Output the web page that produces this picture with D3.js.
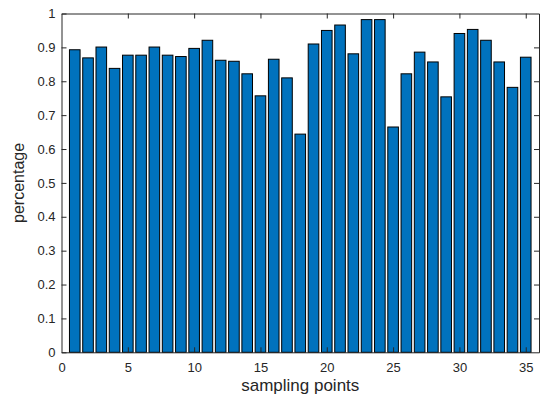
<!DOCTYPE html>
<html>
<head>
<meta charset="utf-8">
<script src="https://cdn.jsdelivr.net/npm/d3@7"></script>
<style>
  html, body { margin: 0; padding: 0; background: #fff; }
  svg { display: block; }
  text { font-family: "Liberation Sans", Arial, Helvetica, sans-serif; fill: #262626; }
</style>
</head>
<body>
<svg id="chart" width="540" height="396"></svg>
<script>
const categories = d3.range(1, 36);
const values = [0.893, 0.869, 0.901, 0.838, 0.877, 0.877, 0.901, 0.877, 0.873, 0.897,
                0.921, 0.862, 0.859, 0.822, 0.757, 0.865, 0.810, 0.644, 0.910, 0.950,
                0.966, 0.881, 0.982, 0.982, 0.665, 0.822, 0.886, 0.857, 0.754, 0.941,
                0.953, 0.921, 0.857, 0.782, 0.871];
const xTicks = [0, 5, 10, 15, 20, 25, 30, 35];
const yTicks = [0, 0.1, 0.2, 0.3, 0.4, 0.5, 0.6, 0.7, 0.8, 0.9, 1];
const xLabel = "sampling points";
const yLabel = "percentage";

const svg = d3.select("#chart");
const L = 61.5, R = 539, T = 13.5, B = 352.3;
const x = d3.scaleLinear().domain([0, 36]).range([L, R]);
const y = d3.scaleLinear().domain([0, 1]).range([B, T]);
const axisColor = "#262626";
const tickLen = 5;

// bars
const bw = x(0.8) - x(0);
svg.append("g").selectAll("rect")
  .data(categories)
  .join("rect")
  .attr("x", (d) => x(d) - bw / 2)
  .attr("y", (d, i) => y(values[i]))
  .attr("width", bw)
  .attr("height", (d, i) => y(0) - y(values[i]))
  .attr("fill", "#0072BD")
  .attr("stroke", "#000")
  .attr("stroke-width", 1);

// axes (box with inward ticks)
const fmt = (d) => d === 0 ? "0" : d === 1 ? "1" : d3.format(".1f")(d);
const gB = svg.append("g").attr("transform", `translate(0,${B})`)
  .call(d3.axisBottom(x).tickValues(xTicks).tickSizeInner(-tickLen).tickSizeOuter(0).tickPadding(10));
const gT = svg.append("g").attr("transform", `translate(0,${T})`)
  .call(d3.axisTop(x).tickValues(xTicks).tickSizeInner(-tickLen).tickSizeOuter(0).tickFormat(""));
const gL = svg.append("g").attr("transform", `translate(${L},0)`)
  .call(d3.axisLeft(y).tickValues(yTicks).tickSizeInner(-tickLen).tickSizeOuter(0).tickPadding(6).tickFormat(fmt));
const gR = svg.append("g").attr("transform", `translate(${R},0)`)
  .call(d3.axisRight(y).tickValues(yTicks).tickSizeInner(-tickLen).tickSizeOuter(0).tickFormat(""));

[gB, gT, gL, gR].forEach((g) => {
  g.select(".domain").attr("stroke", axisColor).attr("stroke-width", 1);
  g.selectAll(".tick line").attr("stroke", axisColor).attr("stroke-width", 1);
  g.selectAll(".tick text").attr("fill", axisColor)
    .style("font-family", '"Liberation Sans", Arial, sans-serif').style("font-size", "13px");
});
gT.selectAll(".tick").filter((d) => d === 0).remove();
gB.selectAll(".tick line").filter((d) => d === 0).remove();
gR.selectAll(".tick").filter((d) => d === 0 || d === 1).remove();

// axis labels
svg.append("text")
  .attr("x", (L + R) / 2)
  .attr("y", 391)
  .attr("text-anchor", "middle")
  .style("font-size", "17px")
  .text(xLabel);

svg.append("text")
  .attr("transform", `translate(24,${(T + B) / 2}) rotate(-90)`)
  .attr("text-anchor", "middle")
  .style("font-size", "16px")
  .text(yLabel);
</script>
</body>
</html>
